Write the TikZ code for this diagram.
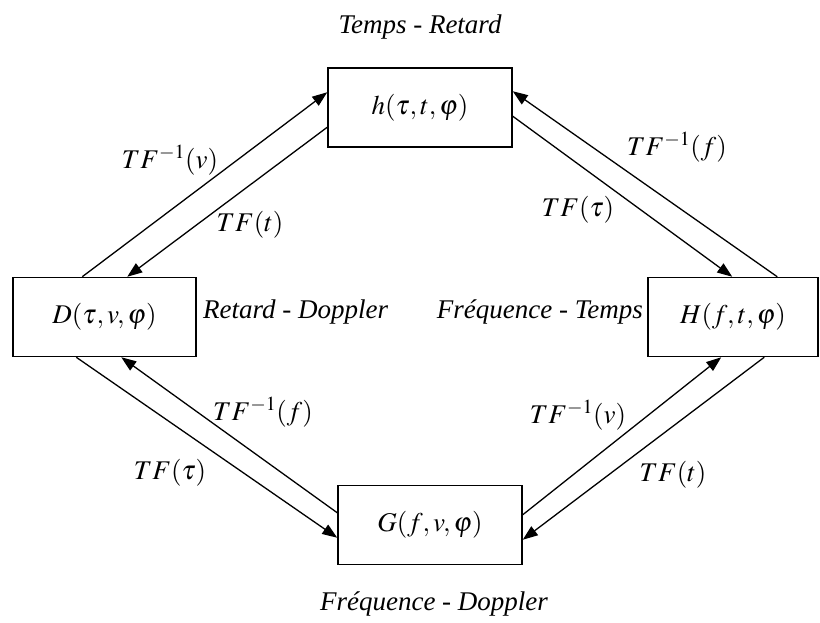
\documentclass[tikz,border=0pt]{standalone}
\usepackage{mathptmx}
\usepackage{fontspec}
\setmainfont{Liberation Serif}
\usetikzlibrary{arrows.meta,calc}
\begin{document}
\begin{tikzpicture}[x=1pt,y=-1pt,
  box/.style={draw,line width=1.5pt,minimum height=79pt,inner sep=0pt,
    font=\fontsize{27}{32}\selectfont},
  txt/.style={font=\fontsize{27}{32}\selectfont\itshape,inner sep=0pt},
  tf/.style={font=\fontsize{27}{32}\selectfont,inner sep=0pt},
  conn/.style={line width=1.3pt,-{Triangle[length=15pt,width=11pt]}}]
\useasboundingbox (0,0) rectangle (820,623);
% boxes
\node[box,minimum width=184pt] (h) at (420,107.5) {$h(\tau,t,\varphi)$};
\node[box,minimum width=183pt] (D) at (104.5,317) {$D(\tau,v,\varphi)$};
\node[box,minimum width=170pt] (H) at (733,317) {$H(f,t,\varphi)$};
\node[box,minimum width=184pt] (G) at (430,525) {$G(f,v,\varphi)$};
% domain labels
\node[txt] (tr) at (420,27) {Temps - Retard};
\node[txt] (fd) at (434,604) {Fréquence - Doppler};
\node[txt,anchor=west] (rd) at (203,312) {Retard - Doppler};
\node[txt,anchor=east] (ft) at (643,312) {Fréquence - Temps};
% connectors
\draw[conn] ($(D.north west)+(70,0)$) -- ($(h.north west)+(0,25)$);
\draw[conn] ($(h.north west)+(0,60)$) -- ($(D.north west)+(115,0)$);
\draw[conn] ($(H.north west)+(130,0)$) -- ($(h.north east)+(0,24)$);
\draw[conn] ($(h.north east)+(0,49)$) -- ($(H.north west)+(85,0)$);
\draw[conn] ($(D.south west)+(64,0)$) -- ($(G.north west)+(0,53)$);
\draw[conn] ($(G.north west)+(0,28)$) -- ($(D.south west)+(109,0)$);
\draw[conn] ($(G.north east)+(0,30)$) -- ($(H.south west)+(74,0)$);
\draw[conn] ($(H.south west)+(117,0)$) -- ($(G.north east)+(0,55)$);
% transform labels
\node[tf] (l1) at (170,160) {$TF^{-1}(v)$};
\node[tf] (l2) at (250,225) {$TF(t)$};
\node[tf] (l3) at (677,147) {$TF^{-1}(f)$};
\node[tf] (l4) at (578,210) {$TF(\tau)$};
\node[tf] (l5) at (263,412) {$TF^{-1}(f)$};
\node[tf] (l6) at (170,473) {$TF(\tau)$};
\node[tf] (l7) at (578,415) {$TF^{-1}(v)$};
\node[tf] (l8) at (673,475) {$TF(t)$};
\end{tikzpicture}
\end{document}
